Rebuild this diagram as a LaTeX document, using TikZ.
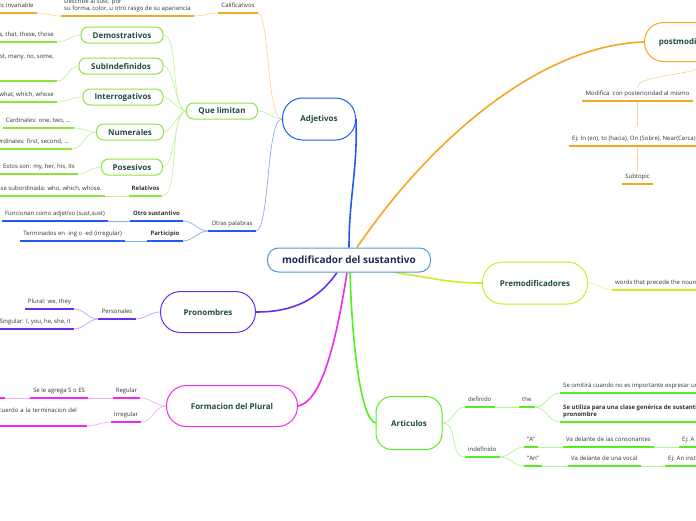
\documentclass[tikz,border=0pt]{standalone}
\usepackage{fontspec}
\setmainfont{Open Sans}
\usetikzlibrary{calc,backgrounds}

\definecolor{centralc}{HTML}{4A9BD6}
\definecolor{centraltext}{HTML}{1B2B55}
\definecolor{topictext}{HTML}{1E4D3F}
\definecolor{leaftext}{HTML}{333333}
\definecolor{orangec}{HTML}{F5A623}
\definecolor{orangelight}{HTML}{FCD49A}
\definecolor{adjblue}{HTML}{1F5BF0}
\definecolor{bluelight}{HTML}{8FAAF5}
\definecolor{limegreen}{HTML}{8EE43C}
\definecolor{limelight}{HTML}{C6F29E}
\definecolor{purplec}{HTML}{6A2EF0}
\definecolor{purplelight}{HTML}{BBA4F8}
\definecolor{magentac}{HTML}{EE2AEE}
\definecolor{magentalight}{HTML}{F6ACF6}
\definecolor{artgreen}{HTML}{55EE22}
\definecolor{artlight}{HTML}{B2F598}
\definecolor{prec}{HTML}{CCEE22}
\definecolor{prelight}{HTML}{E4F58A}

\begin{document}
\begin{tikzpicture}[x=1pt, y=-1pt,
  central/.style={draw=centralc, line width=1pt, fill=white, rounded corners=11pt,
    minimum width=163pt, minimum height=24pt, inner sep=0pt,
    font=\bfseries\fontsize{10}{12}\selectfont, text=centraltext},
  mainbranch/.style={draw=#1, line width=1pt, fill=white, rounded corners=20pt,
    minimum height=42pt, inner sep=0pt, font=\bfseries\fontsize{8}{9.5}\selectfont, text=topictext},
  subbranch/.style={draw=#1, line width=1pt, fill=white, rounded corners=7pt,
    minimum height=16pt, inner sep=0pt, font=\bfseries\fontsize{8}{9.5}\selectfont, text=topictext},
  leafbase/.style={inner xsep=3pt, inner ysep=3.5pt, text=leaftext,
    font=\fontsize{6}{7.8}\selectfont,
    append after command={(\tikzlastnode.south west) edge[draw=#1, line width=1.6pt] (\tikzlastnode.south east)}},
  leaf/.style={leafbase=#1, text height=4.5pt, text depth=1.5pt},
  leafbold/.style={leaf=#1, font=\bfseries\fontsize{6}{7.8}\selectfont},
  link/.style={draw=#1, line width=0.7pt},
  trunk/.style={draw=#1, line width=1.6pt},
]
\useasboundingbox (0,0) rectangle (696,520);
\clip (0,0) rectangle (696,520);

% main topics
\node[central] (central) at (349,260) {modificador del sustantivo};
\node[mainbranch=adjblue, minimum width=73pt] (adj) at (319,119) {Adjetivos};
\node[mainbranch=orangec, minimum width=103pt, minimum height=39pt, rounded corners=19pt, anchor=west] (post) at (644,42) {postmodificadores};
\node[mainbranch=prec, minimum width=105pt] (pre) at (535,283) {Premodificadores};
\node[mainbranch=purplec, minimum width=95pt, minimum height=41pt] (pron) at (208,312) {Pronombres};
\node[mainbranch=magentac, minimum width=131pt, minimum height=41pt] (form) at (232,406) {Formacion del Plural};
\node[mainbranch=artgreen, minimum width=66pt, minimum height=53pt, rounded corners=16pt] (art) at (409,423) {Articulos};

% adjetivos
\node[leaf=orangec, anchor=south] (calif) at (238,13) {Calificativos};
\node[leafbase=orangec, align=left, anchor=south] (desc) at (127.5,16) {Describe al sust. por\\su forma, color, u otro rasgo de su apariencia};
\node[leaf=orangec, anchor=south east, text width=36pt, align=left] (esinv) at (37,13) {Es invariable};

\node[subbranch=limegreen, minimum width=71pt] (ql) at (222,111) {Que limitan};
\node[subbranch=limegreen, minimum width=82pt] (dem) at (122,35) {Demostrativos};
\node[subbranch=limegreen, minimum width=84pt] (sub) at (121,66) {SubIndefinidos};
\node[subbranch=limegreen, minimum width=80pt] (int) at (123,97) {Interrogativos};
\node[subbranch=limegreen, minimum width=67pt] (num) at (130,132) {Numerales};
\node[subbranch=limegreen, minimum width=61pt] (pos) at (132,167) {Posesivos};
\node[leafbold=limegreen, anchor=south] (rel) at (145.5,196) {Relativos};

\node[leaf=limegreen, anchor=south east] (ldem) at (57,42) {This, that, these, those};
\node[leaf=limegreen, anchor=south east, text depth=18.9pt] (lsub) at (57,81) {Most, many, no, some,};
\node[leaf=limegreen, anchor=south east] (lint) at (57,102) {what, which, whose};
\node[leaf=limegreen, anchor=south east] (lcard) at (74,128) {Cardinales: one, two, ...};
\node[leaf=limegreen, anchor=south east] (lord) at (72,149) {Ordinales: first, second, ...};
\node[leaf=limegreen, anchor=south east] (lpos) at (78,174) {Estos son: my, her, his, its};
\node[leaf=limegreen, anchor=south east] (lrel) at (105,196) {Clase subordinada: who, which, whose.};

\node[leaf=adjblue, anchor=south] (otras) at (232,231) {Otras palabras};
\node[leafbold=adjblue, anchor=south] (otro) at (156.5,221) {Otro sustantivo};
\node[leafbold=adjblue, anchor=south] (part) at (165,241) {Participio};
\node[leaf=adjblue, anchor=south east] (lotro) at (108,221) {Funcionan como adjetivo (sust,sust)};
\node[leaf=adjblue, anchor=south east] (lpart) at (125,241) {Terminados en -ing o -ed (irregular)};

% pronombres
\node[leaf=purplec, anchor=south] (pers) at (117,319) {Personales};
\node[leaf=purplec, anchor=south east] (plur) at (74,309) {Plural: we, they};
\node[leaf=purplec, anchor=south east] (sing) at (74,329) {Singular: I, you, he, she, it};

% formacion del plural
\node[leaf=magentac, anchor=south] (reg) at (126.5,398) {Regular};
\node[leaf=magentac, anchor=south] (irr) at (126,422) {Irregular};
\node[leaf=magentac, anchor=south] (agrega) at (59,398) {Se le agrega S o ES};
\node[leaf=magentac, anchor=south east, text depth=9.9pt, text width=98pt, align=left] (acuerdo) at (87,426) {De acuerdo a la terminacion del};
\coordinate (offleft) at (5,398);
\draw[magentac, line width=1.6pt] (-30,398) -- (offleft);

% articulos
\node[leaf=artgreen, anchor=south west] (defi) at (465,407) {definido};
\node[leaf=artgreen, anchor=south west] (indef) at (465,457) {indefinido};
\node[leaf=artgreen, anchor=south west] (the) at (519,407) {the};
\node[leaf=artgreen, anchor=south west] (omit) at (560,393) {Se omitirá cuando no es importante expresar una};
\node[leafbase=artgreen, align=left, anchor=south west, font=\bfseries\fontsize{6}{7.5}\selectfont] (utiliza) at (560,422) {Se utiliza para una clase genérica de sustantivo\\pronombre};
\node[leaf=artgreen, anchor=south west] (a) at (524,447) {"A"};
\node[leaf=artgreen, anchor=south west] (va1) at (563,447) {Va delante de las consonantes};
\node[leaf=artgreen, anchor=south west] (eja) at (679,447) {Ej: A};
\node[leaf=artgreen, anchor=south west] (an) at (524,466) {"An"};
\node[leaf=artgreen, anchor=south west] (va2) at (568,466) {Va delante de una vocal};
\node[leaf=artgreen, anchor=south west] (ejan) at (665,466) {Ej: An inst};

% premodificadores
\node[leaf=prec, anchor=south west] (words) at (612,290) {words that precede the noun};

% postmodificadores
\node[leaf=orangec, anchor=south] (modif) at (637.5,101) {Modifica\ \ con posterioridad al mismo};
\node[leaf=orangec, anchor=south west] (ejin) at (569,146) {Ej: In (en), to (hacia), On (Sobre), Near(Cerca)};
\node[leaf=orangec, anchor=south] (subt) at (637.5,184) {Subtopic};

\begin{scope}[on background layer]
% from the central topic
\draw[trunk=adjblue] (central.north) to[out=90,in=-88] (adj.east);
\draw[trunk=orangec] ($(central.north)+(8,0)$) .. controls (430,140) and (540,45) .. (post.west);
\draw[trunk=prec] ($(central.south)+(46,0)$) to[out=-8,in=180] (pre.west);
\draw[trunk=purplec] ($(central.south)+(-12,0)$) to[out=-125,in=0] (pron.east);
\draw[trunk=magentac] ($(central.south)+(-2,0)$) .. controls (335,350) and (320,402) .. (form.east);
\draw[trunk=artgreen] ($(central.south)+(1,0)$) .. controls (352,340) and (360,418) .. (art.west);

% adjetivos
\draw[link=orangelight] (adj.west) .. controls (266,119) and (270,13) .. (calif.south east);
\draw[link=orangelight] (calif.south west) to[out=180,in=0] (desc.south east);
\draw[link=orangelight] (desc.south west) to[out=180,in=0] (esinv.south east);
\draw[link=limelight] (adj.west) to[out=180,in=0] (ql.east);
\draw[link=limelight] (ql.west) to[out=180,in=0,looseness=0.5] (dem.east);
\draw[link=limelight] (ql.west) to[out=180,in=0,looseness=0.5] (sub.east);
\draw[link=limelight] (ql.west) to[out=180,in=0,looseness=0.5] (int.east);
\draw[link=limelight] (ql.west) to[out=180,in=0,looseness=0.5] (num.east);
\draw[link=limelight] (ql.west) to[out=180,in=0,looseness=0.5] (pos.east);
\draw[link=limelight] (ql.west) to[out=180,in=0,looseness=0.5] (rel.south east);
\draw[link=limelight] (dem.west) to[out=180,in=0] (ldem.south east);
\draw[link=limelight] (sub.west) to[out=180,in=0] (lsub.south east);
\draw[link=limelight] (int.west) to[out=180,in=0] (lint.south east);
\draw[link=limelight] (num.west) to[out=180,in=0] (lcard.south east);
\draw[link=limelight] (num.west) to[out=180,in=0] (lord.south east);
\draw[link=limelight] (pos.west) to[out=180,in=0] (lpos.south east);
\draw[link=limelight] (rel.south west) -- (lrel.south east);
\draw[link=bluelight] (adj.west) .. controls (266,119) and (270,231) .. (otras.south east);
\draw[link=bluelight] (otras.south west) to[out=180,in=0] (otro.south east);
\draw[link=bluelight] (otras.south west) to[out=180,in=0] (part.south east);
\draw[link=bluelight] (otro.south west) -- (lotro.south east);
\draw[link=bluelight] (part.south west) -- (lpart.south east);

% pronombres
\draw[link=purplelight] (pron.west) to[out=180,in=0] (pers.south east);
\draw[link=purplelight] (pers.south west) to[out=180,in=0] (plur.south east);
\draw[link=purplelight] (pers.south west) to[out=180,in=0] (sing.south east);

% formacion del plural
\draw[link=magentalight] (form.west) to[out=180,in=0] (reg.south east);
\draw[link=magentalight] (form.west) to[out=180,in=0] (irr.south east);
\draw[link=magentalight] (reg.south west) -- (agrega.south east);
\draw[link=magentalight] (agrega.south west) -- (offleft);
\draw[link=magentalight] (irr.south west) to[out=180,in=0] (acuerdo.south east);

% articulos
\draw[link=artlight] (art.east) to[out=0,in=180] (defi.south west);
\draw[link=artlight] (art.east) to[out=0,in=180] (indef.south west);
\draw[link=artlight] (defi.south east) -- (the.south west);
\draw[link=artlight] (the.south east) to[out=0,in=180] (omit.south west);
\draw[link=artlight] (the.south east) to[out=0,in=180] (utiliza.south west);
\draw[link=artlight] (indef.south east) to[out=0,in=180] (a.south west);
\draw[link=artlight] (indef.south east) to[out=0,in=180] (an.south west);
\draw[link=artlight] (a.south east) -- (va1.south west);
\draw[link=artlight] (va1.south east) -- (eja.south west);
\draw[link=artlight] (an.south east) -- (va2.south west);
\draw[link=artlight] (va2.south east) -- (ejan.south west);

% premodificadores and postmodificadores
\draw[link=prelight] (pre.east) to[out=0,in=180] (words.south west);
\draw[link=orangelight] ($(post.south)+(10,0)$) to[out=-95,in=90,looseness=0.5] (modif.north);
\draw[link=orangelight] (modif.south) -- ($(modif.south |- ejin.north)+(0,-7)$);
\draw[link=orangelight] (modif.south |- ejin.south) -- (subt.north);
\end{scope}
\end{tikzpicture}
\end{document}
